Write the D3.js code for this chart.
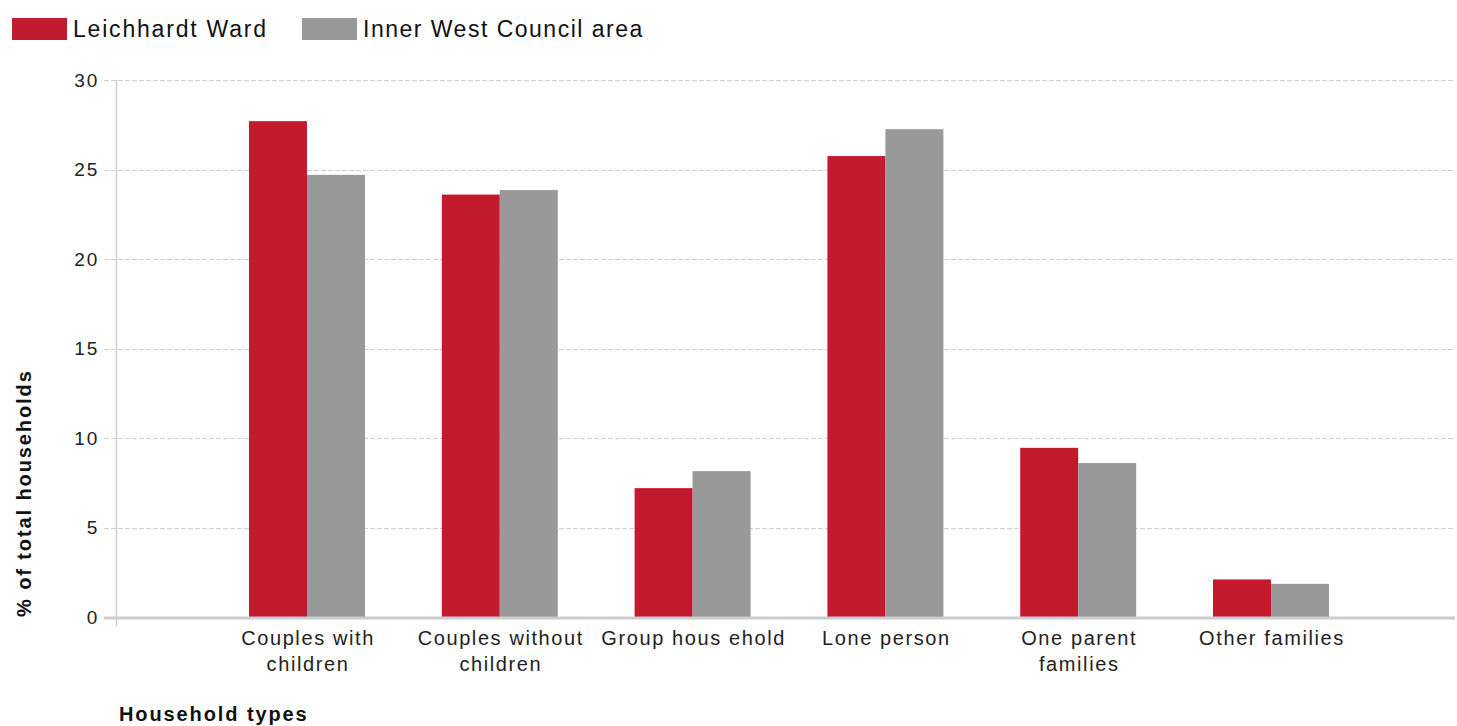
<!DOCTYPE html>
<html>
<head>
<meta charset="utf-8">
<script src="https://cdn.jsdelivr.net/npm/d3@7"></script>
<style>
  html, body { margin: 0; padding: 0; background: #fff; }
  svg { display: block; font-family: "Liberation Sans", Arial, sans-serif; }
</style>
</head>
<body>
<svg id="chart" width="1457" height="726"></svg>
<script>
const categories = [
  ["Couples with", "children"],
  ["Couples without", "children"],
  ["Group hous ehold"],
  ["Lone person"],
  ["One parent", "families"],
  ["Other families"]
];
const categoryKeys = categories.map(c => c.join(" "));
const seriesNames = ["Leichhardt Ward", "Inner West Council area"];
const leichhardt = [27.7, 23.6, 7.2, 25.75, 9.45, 2.1];
const innerWest = [24.7, 23.85, 8.15, 27.25, 8.6, 1.85];
const yTicks = [0, 5, 10, 15, 20, 25, 30];
const colors = ["#c11b2d", "#999999"];

const svg = d3.select("#chart");

const y = d3.scaleLinear().domain([0, 30]).range([617, 80]);
const x = d3.scalePoint().domain(categoryKeys).range([307, 1271]);
const barW = 58;
const sub = d3.scaleBand().domain(seriesNames).range([-barW, barW]);

// gridlines
svg.append("g").selectAll("line").data(yTicks.filter(d => d > 0)).join("line")
  .attr("x1", 104).attr("x2", 1455)
  .attr("y1", d => Math.round(y(d)) + 0.5).attr("y2", d => Math.round(y(d)) + 0.5)
  .attr("stroke", "#cfcfcf").attr("stroke-width", 1.2).attr("stroke-dasharray", "5,2");

// y axis line
svg.append("line").attr("x1", 116.5).attr("x2", 116.5).attr("y1", 80).attr("y2", 626)
  .attr("stroke", "#d0d0d0").attr("stroke-width", 1.5);

// y tick labels
svg.append("g").selectAll("text").data(yTicks).join("text")
  .attr("x", 99).attr("y", d => y(d)).attr("dy", "0.35em")
  .attr("text-anchor", "end").attr("font-size", 19).attr("fill", "#222")
  .attr("letter-spacing", 1.8)
  .text(d => d);

// bars
const data = [leichhardt, innerWest];
const groups = svg.append("g").selectAll("g").data(seriesNames).join("g")
  .attr("fill", (d, i) => colors[i]);
groups.selectAll("rect").data((s, si) => categoryKeys.map((c, ci) => ({c, s, v: data[si][ci]}))).join("rect")
  .attr("x", d => x(d.c) + sub(d.s))
  .attr("width", sub.bandwidth())
  .attr("y", d => y(d.v))
  .attr("height", d => y(0) - y(d.v));

// x axis line
svg.append("line").attr("x1", 104).attr("x2", 1455).attr("y1", 618).attr("y2", 618)
  .attr("stroke", "#cccccc").attr("stroke-width", 3);

// x labels
const xl = svg.append("g").selectAll("text").data(categories).join("text")
  .attr("text-anchor", "middle").attr("font-size", 20).attr("fill", "#222")
  .attr("letter-spacing", 1.6)
  .attr("transform", (d, i) => `translate(${x(categoryKeys[i]) + 1},645)`);
xl.selectAll("tspan").data(d => d).join("tspan")
  .attr("x", 0).attr("dy", (d, i) => i === 0 ? 0 : 26).text(d => d);

// axis titles
svg.append("text").attr("transform", "translate(31,617) rotate(-90)")
  .attr("text-anchor", "start").attr("font-size", 20).attr("font-weight", "bold").attr("fill", "#111")
  .attr("letter-spacing", 1.9)
  .text("% of total households");
svg.append("text").attr("x", 119).attr("y", 721)
  .attr("font-size", 20).attr("font-weight", "bold").attr("fill", "#111")
  .attr("letter-spacing", 1.9)
  .text("Household types");

// legend
const legendX = [12, 302];
const lg = svg.append("g").selectAll("g").data(seriesNames).join("g")
  .attr("transform", (d, i) => `translate(${legendX[i]},18)`);
lg.append("rect").attr("width", 55).attr("height", 22).attr("fill", (d, i) => colors[i]);
lg.append("text").attr("x", 61).attr("y", 11).attr("dy", "0.36em")
  .attr("font-size", 23).attr("fill", "#111").attr("letter-spacing", (d, i) => i === 0 ? 1.8 : 1.5)
  .text(d => d);
</script>
</body>
</html>
